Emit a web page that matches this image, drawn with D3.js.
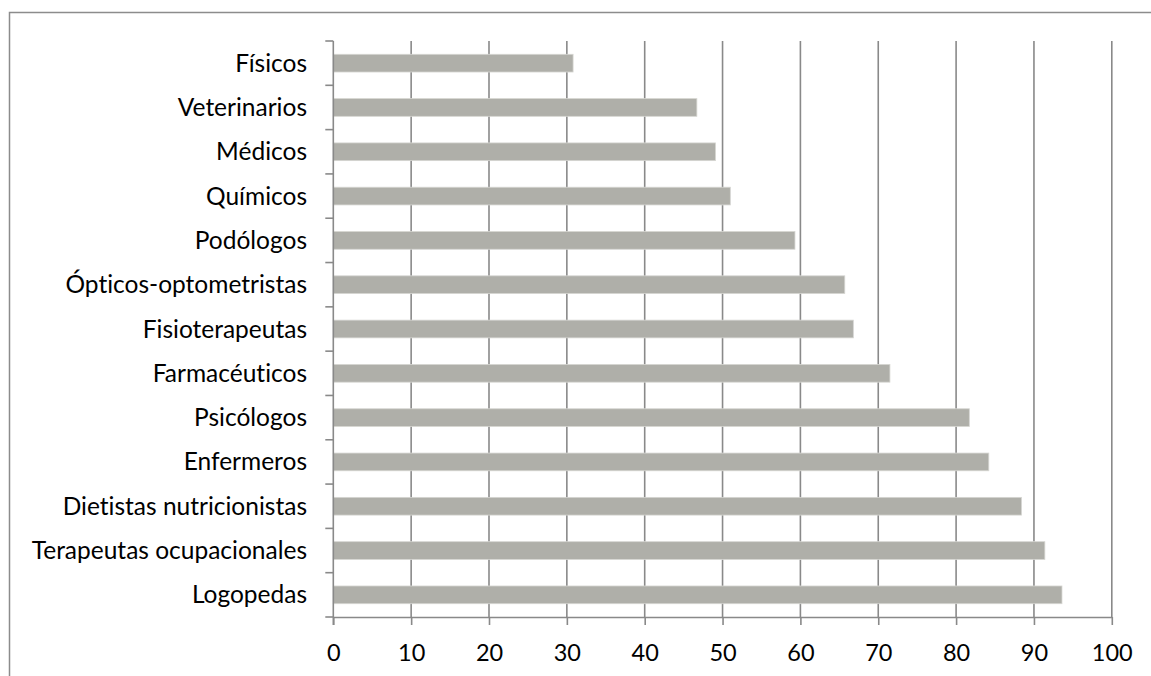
<!DOCTYPE html>
<html>
<head>
<meta charset="utf-8">
<script src="https://cdn.jsdelivr.net/npm/d3@7"></script>
<style>
  html, body { margin: 0; padding: 0; background: #fff; }
  svg { display: block; }
  text { font-family: Lato, "Open Sans", sans-serif; fill: #000; font-variant-ligatures: none; font-feature-settings: "liga" 0, "clig" 0; }
</style>
</head>
<body>
<svg id="chart" width="1151" height="676"></svg>
<script>
// Professions, top to bottom
const categories = [
  "Físicos", "Veterinarios", "Médicos", "Químicos", "Podólogos",
  "Ópticos-optometristas", "Fisioterapeutas", "Farmacéuticos", "Psicólogos",
  "Enfermeros", "Dietistas nutricionistas", "Terapeutas ocupacionales", "Logopedas"
];
// Percentage for each profession (same order)
const values = [30.8, 46.7, 49.1, 51.0, 59.3, 65.7, 66.8, 71.5, 81.7, 84.2, 88.4, 91.4, 93.6];
// Value axis ticks
const xTicks = [0, 10, 20, 30, 40, 50, 60, 70, 80, 90, 100];

const svg = d3.select("#chart");
const W = 1151, H = 676;
const plot = { left: 333.3, right: 1111.8, top: 41, bottom: 617 };
const gridColor = "#898989";

// Outer chart frame (runs past the right and bottom edges)
svg.append("rect")
  .attr("x", 9.5).attr("y", 12.5)
  .attr("width", W + 20).attr("height", H + 20)
  .attr("fill", "none").attr("stroke", "#8c8c8c").attr("stroke-width", 1.5);

const x = d3.scaleLinear().domain([0, 100]).range([plot.left, plot.right]);
const y = d3.scaleBand().domain(categories).range([plot.top, plot.bottom]).paddingInner(0.6).paddingOuter(0.3);
const band = (plot.bottom - plot.top) / categories.length;

// Vertical gridlines
svg.append("g").selectAll("line")
  .data(xTicks.filter(d => d > 0))
  .join("line")
  .attr("x1", d => x(d)).attr("x2", d => x(d))
  .attr("y1", plot.top).attr("y2", plot.bottom)
  .attr("stroke", gridColor).attr("stroke-width", 1.6);

// Bars
svg.append("g").selectAll("rect")
  .data(values)
  .join("rect")
  .attr("x", x(0))
  .attr("y", (d, i) => y(categories[i]))
  .attr("width", d => x(d) - x(0))
  .attr("height", y.bandwidth())
  .attr("fill", "#afafa9")
  .attr("stroke", "#d6d6d2")
  .attr("stroke-width", 0.8);

// Bottom value axis
const xAxis = d3.axisBottom(x).tickValues(xTicks).tickSize(8).tickSizeOuter(0).tickPadding(19);
const gx = svg.append("g").attr("transform", `translate(0,${plot.bottom})`).call(xAxis);
gx.select(".domain").attr("stroke", gridColor).attr("stroke-width", 1.6);
gx.selectAll(".tick line").attr("stroke", gridColor).attr("stroke-width", 1.6);
gx.selectAll(".tick text").attr("font-size", 23.5).attr("fill", "#000").attr("font-family", "Lato, sans-serif");

// Left category axis: boundary ticks between bands
const boundaries = d3.range(categories.length + 1).map(i => plot.top + i * band);
svg.append("line")
  .attr("x1", plot.left).attr("x2", plot.left)
  .attr("y1", plot.top).attr("y2", plot.bottom + 8)
  .attr("stroke", gridColor).attr("stroke-width", 1.6);
svg.append("g").selectAll("line")
  .data(boundaries)
  .join("line")
  .attr("x1", plot.left - 8).attr("x2", plot.left)
  .attr("y1", d => d).attr("y2", d => d)
  .attr("stroke", gridColor).attr("stroke-width", 1.6);

// Category labels
svg.append("g").selectAll("text")
  .data(categories)
  .join("text")
  .attr("x", 307)
  .attr("y", d => y(d) + y.bandwidth() / 2)
  .attr("dy", "0.35em")
  .attr("text-anchor", "end")
  .attr("font-size", 24.5)
  .text(d => d);
</script>
</body>
</html>
